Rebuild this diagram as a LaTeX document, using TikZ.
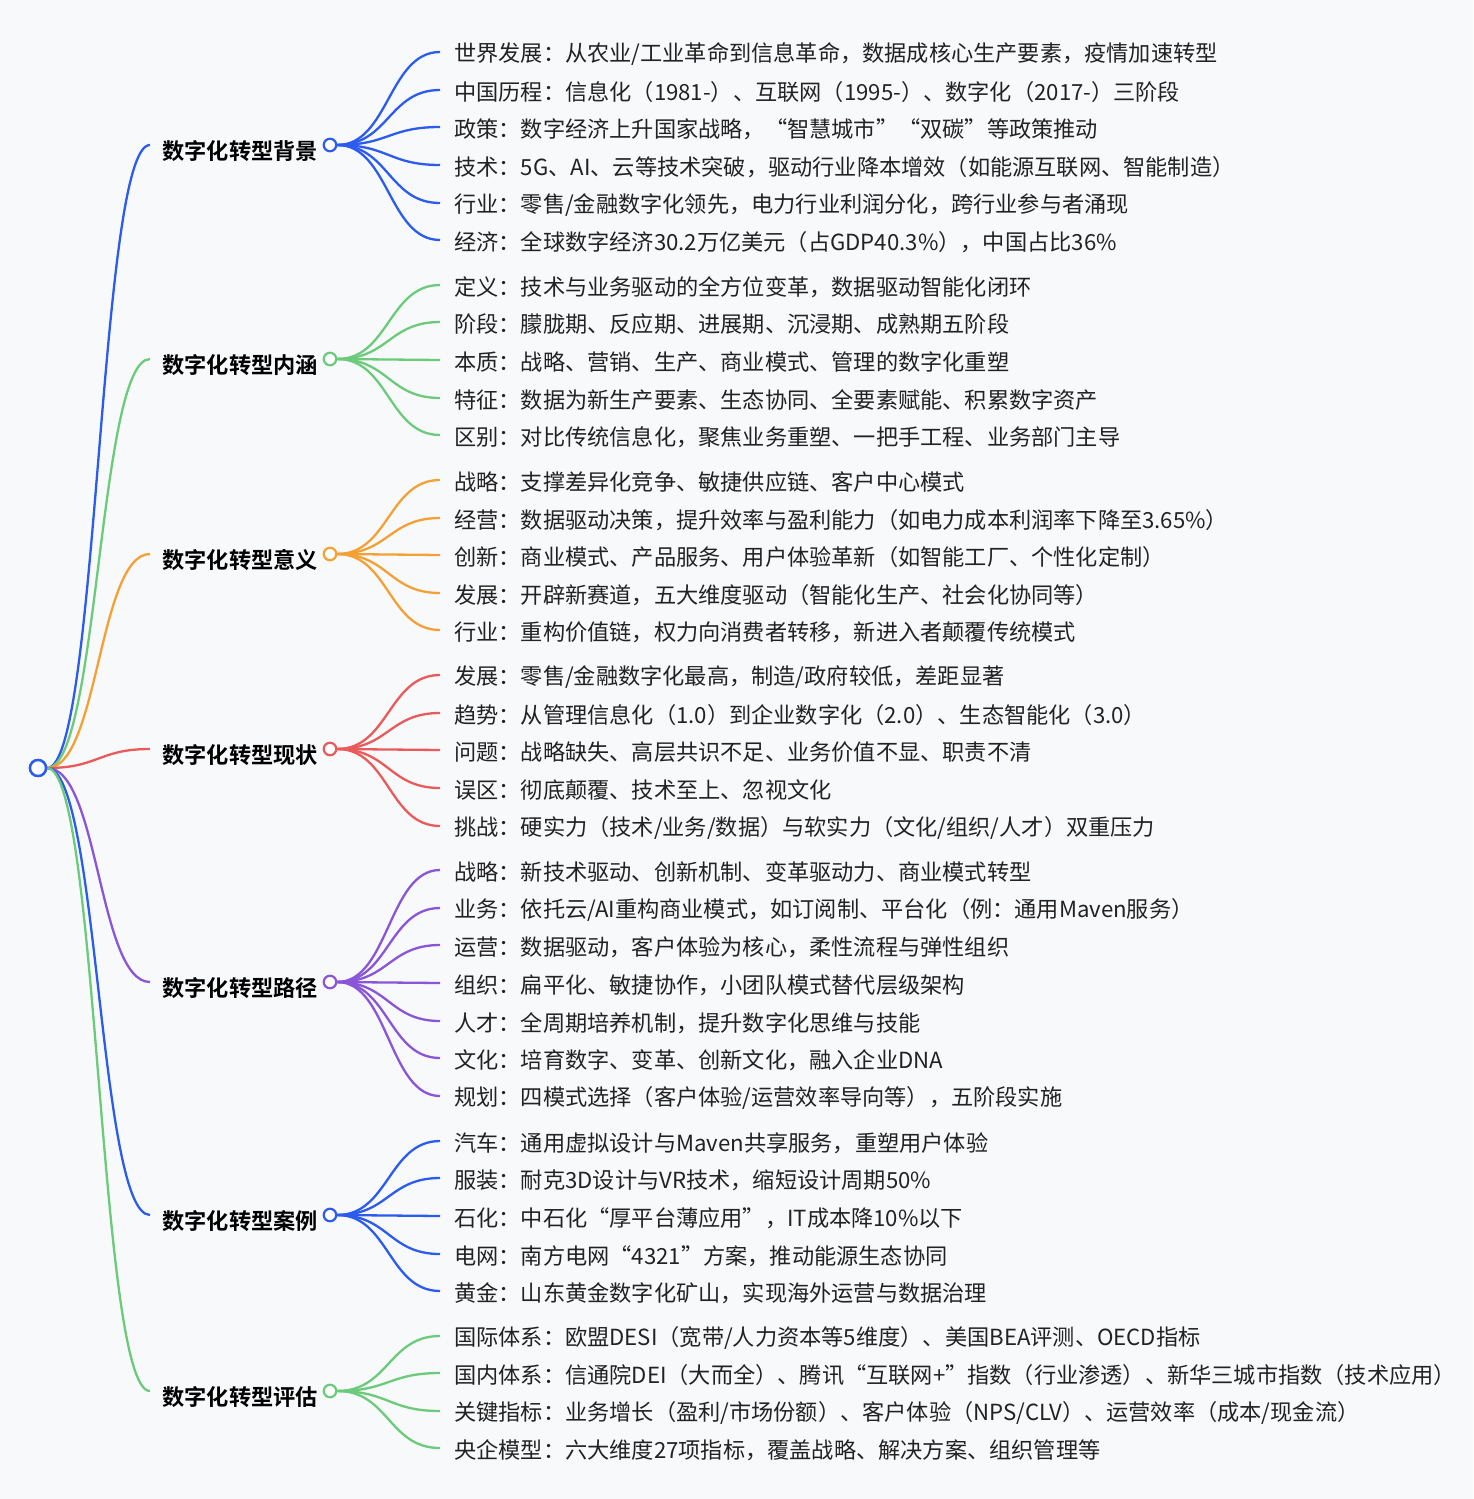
\documentclass[tikz,border=0pt]{standalone}
\usepackage{fontspec}
\setmainfont{Noto Sans CJK SC}[BoldFont={Noto Sans CJK SC Bold}]
\usetikzlibrary{calc}
\definecolor{bgc}{RGB}{248,249,251}
\definecolor{cblue}{RGB}{43,91,239}
\definecolor{cgreen}{RGB}{108,203,122}
\definecolor{corange}{RGB}{245,160,53}
\definecolor{cred}{RGB}{234,90,90}
\definecolor{cpurple}{RGB}{138,85,216}
\definecolor{textc}{RGB}{34,34,34}
\newcommand\mmlink[3]{\draw[link,#1] let \p1=(#2), \p2=(#3), \n1={(\x1+\x2)/2} in (\p1) .. controls (\n1,\y1) and (\n1,\y2) .. (\p2);}
\newcommand\mmleaf[5]{%
  \coordinate (e#2) at (440,#3);
  \node[leafnode] (n#2) at (454,#3+2) {#5};
  \mmlink{#4}{#1.east}{e#2}}
\newcommand\mmbranch[4]{%
  \coordinate (s#1) at (150,#2);
  \node[branchnode] (t#1) at (318,#2+6) {#4};
  \node[dotnode,draw=#3] (b#1) at (330,#2) {};
  \mmlink{#3}{root.east}{s#1}}
\begin{document}
\begin{tikzpicture}[x=1pt,y=-1pt,
  link/.style={line width=2.3pt},
  leafnode/.style={anchor=west,inner sep=0pt,font=\fontsize{22.2}{25}\selectfont,text=textc},
  branchnode/.style={anchor=east,inner sep=0pt,font=\fontsize{22.2}{25}\selectfont\bfseries,text=black},
  dotnode/.style={circle,fill=white,line width=2.2pt,minimum size=12.5pt,inner sep=0pt},
  rootnode/.style={circle,fill=white,draw=cblue,line width=2.4pt,minimum size=16pt,inner sep=0pt}]
\fill[bgc] (0,0) rectangle (1473,1499);
\useasboundingbox (0,0) rectangle (1473,1499);
\node[rootnode] (root) at (38,768) {};
% branches
\mmbranch{1}{145}{cblue}{数字化转型背景}
\mmbranch{2}{359}{cgreen}{数字化转型内涵}
\mmbranch{3}{554}{corange}{数字化转型意义}
\mmbranch{4}{749}{cred}{数字化转型现状}
\mmbranch{5}{982}{cpurple}{数字化转型路径}
\mmbranch{6}{1215}{cblue}{数字化转型案例}
\mmbranch{7}{1391}{cgreen}{数字化转型评估}
\node[rootnode] at (root) {};
% leaves 1
\mmleaf{b1}{11}{52}{cblue}{世界发展：从农业/工业革命到信息革命，数据成核心生产要素，疫情加速转型}
\mmleaf{b1}{12}{90}{cblue}{中国历程：信息化（1981-）、互联网（1995-）、数字化（2017-）三阶段}
\mmleaf{b1}{13}{127}{cblue}{政策：数字经济上升国家战略，“智慧城市”“双碳”等政策推动}
\mmleaf{b1}{14}{165}{cblue}{技术：5G、AI、云等技术突破，驱动行业降本增效（如能源互联网、智能制造）}
\mmleaf{b1}{15}{203}{cblue}{行业：零售/金融数字化领先，电力行业利润分化，跨行业参与者涌现}
\mmleaf{b1}{16}{240}{cblue}{经济：全球数字经济30.2万亿美元（占GDP40.3\%），中国占比36\%}
% leaves 2
\mmleaf{b2}{21}{285}{cgreen}{定义：技术与业务驱动的全方位变革，数据驱动智能化闭环}
\mmleaf{b2}{22}{322}{cgreen}{阶段：朦胧期、反应期、进展期、沉浸期、成熟期五阶段}
\mmleaf{b2}{23}{360}{cgreen}{本质：战略、营销、生产、商业模式、管理的数字化重塑}
\mmleaf{b2}{24}{398}{cgreen}{特征：数据为新生产要素、生态协同、全要素赋能、积累数字资产}
\mmleaf{b2}{25}{435}{cgreen}{区别：对比传统信息化，聚焦业务重塑、一把手工程、业务部门主导}
% leaves 3
\mmleaf{b3}{31}{480}{corange}{战略：支撑差异化竞争、敏捷供应链、客户中心模式}
\mmleaf{b3}{32}{518}{corange}{经营：数据驱动决策，提升效率与盈利能力（如电力成本利润率下降至3.65\%）}
\mmleaf{b3}{33}{555}{corange}{创新：商业模式、产品服务、用户体验革新（如智能工厂、个性化定制）}
\mmleaf{b3}{34}{593}{corange}{发展：开辟新赛道，五大维度驱动（智能化生产、社会化协同等）}
\mmleaf{b3}{35}{630}{corange}{行业：重构价值链，权力向消费者转移，新进入者颠覆传统模式}
% leaves 4
\mmleaf{b4}{41}{675}{cred}{发展：零售/金融数字化最高，制造/政府较低，差距显著}
\mmleaf{b4}{42}{713}{cred}{趋势：从管理信息化（1.0）到企业数字化（2.0）、生态智能化（3.0）}
\mmleaf{b4}{43}{750}{cred}{问题：战略缺失、高层共识不足、业务价值不显、职责不清}
\mmleaf{b4}{44}{788}{cred}{误区：彻底颠覆、技术至上、忽视文化}
\mmleaf{b4}{45}{826}{cred}{挑战：硬实力（技术/业务/数据）与软实力（文化/组织/人才）双重压力}
% leaves 5
\mmleaf{b5}{51}{870}{cpurple}{战略：新技术驱动、创新机制、变革驱动力、商业模式转型}
\mmleaf{b5}{52}{908}{cpurple}{业务：依托云/AI重构商业模式，如订阅制、平台化（例：通用Maven服务）}
\mmleaf{b5}{53}{945}{cpurple}{运营：数据驱动，客户体验为核心，柔性流程与弹性组织}
\mmleaf{b5}{54}{983}{cpurple}{组织：扁平化、敏捷协作，小团队模式替代层级架构}
\mmleaf{b5}{55}{1021}{cpurple}{人才：全周期培养机制，提升数字化思维与技能}
\mmleaf{b5}{56}{1058}{cpurple}{文化：培育数字、变革、创新文化，融入企业DNA}
\mmleaf{b5}{57}{1096}{cpurple}{规划：四模式选择（客户体验/运营效率导向等），五阶段实施}
% leaves 6
\mmleaf{b6}{61}{1141}{cblue}{汽车：通用虚拟设计与Maven共享服务，重塑用户体验}
\mmleaf{b6}{62}{1178}{cblue}{服装：耐克3D设计与VR技术，缩短设计周期50\%}
\mmleaf{b6}{63}{1216}{cblue}{石化：中石化“厚平台薄应用”，IT成本降10\%以下}
\mmleaf{b6}{64}{1254}{cblue}{电网：南方电网“4321”方案，推动能源生态协同}
\mmleaf{b6}{65}{1291}{cblue}{黄金：山东黄金数字化矿山，实现海外运营与数据治理}
% leaves 7
\mmleaf{b7}{71}{1336}{cgreen}{国际体系：欧盟DESI（宽带/人力资本等5维度）、美国BEA评测、OECD指标}
\mmleaf{b7}{72}{1373}{cgreen}{国内体系：信通院DEI（大而全）、腾讯“互联网+”指数（行业渗透）、新华三城市指数（技术应用）}
\mmleaf{b7}{73}{1411}{cgreen}{关键指标：业务增长（盈利/市场份额）、客户体验（NPS/CLV）、运营效率（成本/现金流）}
\mmleaf{b7}{74}{1448}{cgreen}{央企模型：六大维度27项指标，覆盖战略、解决方案、组织管理等}
\end{tikzpicture}
\end{document}
